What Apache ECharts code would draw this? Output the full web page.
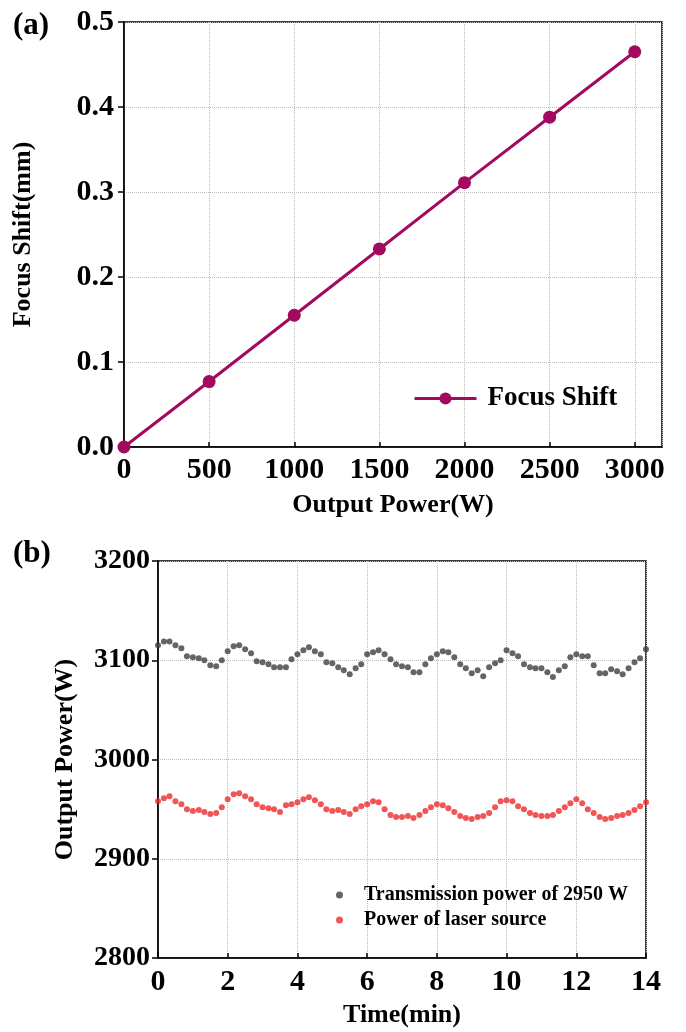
<!DOCTYPE html>
<html>
<head>
<meta charset="utf-8">
<script src="https://cdn.jsdelivr.net/npm/echarts@6/dist/echarts.min.js"></script>
<style>
  html, body { margin: 0; padding: 0; background: #fff; }
  #chart { width: 686px; height: 1032px; }
</style>
</head>
<body>
<div id="chart"></div>
<script>
// (a) focus shift vs output power
const powerW = [0, 500, 1000, 1500, 2000, 2500, 3000];
const focusShiftMm = [0, 0.077, 0.155, 0.233, 0.311, 0.388, 0.465];

// (b) power stability over time (sampled every ~10 s)
const timeMin = [
  0, 0.17, 0.33, 0.5, 0.67, 0.83, 1, 1.17, 1.33, 1.5, 1.67, 1.83,
  2, 2.17, 2.33, 2.5, 2.67, 2.83, 3, 3.17, 3.33, 3.5, 3.67, 3.83,
  4, 4.17, 4.33, 4.5, 4.67, 4.83, 5, 5.17, 5.33, 5.5, 5.67, 5.83,
  6, 6.17, 6.33, 6.5, 6.67, 6.83, 7, 7.17, 7.33, 7.5, 7.67, 7.83,
  8, 8.17, 8.33, 8.5, 8.67, 8.83, 9, 9.17, 9.33, 9.5, 9.67, 9.83,
  10, 10.17, 10.33, 10.5, 10.67, 10.83, 11, 11.17, 11.33, 11.5, 11.67, 11.83,
  12, 12.17, 12.33, 12.5, 12.67, 12.83, 13, 13.17, 13.33, 13.5, 13.67, 13.83,
  14
];
const transmissionW = [
  3115, 3119, 3119, 3115, 3112, 3104, 3103, 3102, 3100, 3095, 3094, 3100,
  3109, 3114, 3115, 3111, 3107, 3099, 3098, 3096, 3093, 3093, 3093, 3101,
  3106, 3110, 3113, 3109, 3106, 3098, 3097, 3093, 3090, 3086, 3092, 3096,
  3106, 3108, 3110, 3106, 3101, 3096, 3094, 3093, 3088, 3088, 3096, 3102,
  3106, 3109, 3108, 3103, 3096, 3092, 3087, 3090, 3084, 3093, 3097, 3100,
  3110, 3107, 3104, 3096, 3093, 3092, 3092, 3088, 3083, 3090, 3094, 3103,
  3106, 3104, 3104, 3095, 3087, 3087, 3091, 3089, 3086, 3092, 3098, 3102,
  3111
];
const laserSourceW = [
  2958, 2961, 2963, 2958, 2955, 2950, 2948, 2949, 2947, 2945, 2946, 2952,
  2960, 2965, 2966, 2963, 2960, 2955, 2952, 2951, 2950, 2947, 2954, 2955,
  2957, 2960, 2962, 2959, 2955, 2950, 2948, 2949, 2947, 2945, 2950, 2953,
  2955, 2958, 2957, 2950, 2944, 2942, 2942, 2943, 2941, 2944, 2948, 2952,
  2955, 2954, 2951, 2947, 2943, 2941, 2940, 2942, 2943, 2946, 2952, 2958,
  2959, 2958, 2953, 2950, 2946, 2944, 2943, 2943, 2944, 2948, 2952, 2956,
  2960, 2956, 2950, 2946, 2942, 2940, 2941, 2943, 2944, 2946, 2949, 2953,
  2957
];

const FONT = '"Liberation Serif", "DejaVu Serif", serif';
const gridLine = { show: true, lineStyle: { color: '#bdbdbd', type: 'dotted', width: 1 } };
const axisLine = { show: true, onZero: false, lineStyle: { color: '#000', width: 1.5 } };
const tickLabel = { fontFamily: FONT, fontWeight: 'bold', fontSize: 30, color: '#000' };
const nameText = { fontFamily: FONT, fontWeight: 'bold', fontSize: 26, color: '#000' };
const plain = v => String(v);

const zip = (xs, ys) => xs.map((x, i) => [x, ys[i]]);

const chart = echarts.init(document.getElementById('chart'), null, { renderer: 'canvas' });

const option = {
  backgroundColor: '#fff',
  animation: false,
  title: [
    { text: '(a)', left: 8, top: 5, textStyle: { fontFamily: FONT, fontWeight: 'bold', fontSize: 31, color: '#000' } },
    { text: '(b)', left: 8, top: 533, textStyle: { fontFamily: FONT, fontWeight: 'bold', fontSize: 31, color: '#000' } }
  ],
  grid: [
    { left: 124, right: 24, top: 22, height: 425, show: true, borderColor: '#000', borderWidth: 1.5, backgroundColor: 'transparent' },
    { left: 158, right: 40, top: 561, height: 397, show: true, borderColor: '#000', borderWidth: 1.5, backgroundColor: 'transparent' }
  ],
  xAxis: [
    {
      gridIndex: 0, type: 'value', min: 0, max: 3160, interval: 500,
      axisLine: axisLine,
      axisTick: { show: true, inside: true, length: 5, lineStyle: { color: '#000', width: 1.5 } },
      axisLabel: Object.assign({ margin: 8, showMaxLabel: false, formatter: plain }, tickLabel),
      splitLine: gridLine,
      name: 'Output Power(W)', nameLocation: 'middle', nameGap: 45, nameTextStyle: nameText
    },
    {
      gridIndex: 1, type: 'value', min: 0, max: 14, interval: 2,
      axisLine: axisLine,
      axisTick: { show: true, inside: true, length: 5, lineStyle: { color: '#000', width: 1.5 } },
      axisLabel: Object.assign({ margin: 9, formatter: plain }, tickLabel),
      splitLine: gridLine,
      name: 'Time(min)', nameLocation: 'middle', nameGap: 44, nameTextStyle: nameText
    }
  ],
  yAxis: [
    {
      gridIndex: 0, type: 'value', min: 0, max: 0.5, interval: 0.1,
      axisLine: axisLine,
      axisTick: { show: true, length: 6, lineStyle: { color: '#000', width: 1.5 } },
      axisLabel: Object.assign({ margin: 10, formatter: v => v.toFixed(1) }, tickLabel),
      splitLine: gridLine,
      name: 'Focus Shift(mm)', nameLocation: 'middle', nameGap: 88, nameTextStyle: nameText
    },
    {
      gridIndex: 1, type: 'value', min: 2800, max: 3200, interval: 100,
      axisLine: axisLine,
      axisTick: { show: true, length: 6, lineStyle: { color: '#000', width: 1.5 } },
      axisLabel: Object.assign({ margin: 8, formatter: plain }, Object.assign({}, tickLabel, { fontSize: 28 })),
      splitLine: gridLine,
      name: 'Output Power(W)', nameLocation: 'middle', nameGap: 80, nameTextStyle: nameText
    }
  ],
  legend: [
    {
      data: ['Focus Shift'], left: 408, top: 380,
      itemWidth: 62, itemHeight: 15, itemGap: 10,
      lineStyle: { width: 3 },
      textStyle: { fontFamily: FONT, fontWeight: 'bold', fontSize: 27, color: '#000', padding: [0, 0, 0, 6] }
    },
    {
      data: [
        { name: 'Transmission power of 2950 W', icon: 'circle' },
        { name: 'Power of laser source', icon: 'circle' }
      ],
      orient: 'vertical', left: 331, top: 880, itemGap: 5,
      itemWidth: 7, itemHeight: 7,
      textStyle: { fontFamily: FONT, fontWeight: 'bold', fontSize: 20, color: '#000', padding: [0, 0, 0, 16] }
    }
  ],
  series: [
    {
      name: 'Focus Shift', type: 'line', xAxisIndex: 0, yAxisIndex: 0,
      data: zip(powerW, focusShiftMm),
      symbol: 'circle', symbolSize: 13,
      lineStyle: { color: '#a3095e', width: 3 },
      itemStyle: { color: '#a3095e' }
    },
    {
      name: 'Transmission power of 2950 W', type: 'scatter', xAxisIndex: 1, yAxisIndex: 1,
      data: zip(timeMin, transmissionW),
      symbol: 'circle', symbolSize: 6,
      itemStyle: { color: '#3f3f3f' }
    },
    {
      name: 'Power of laser source', type: 'scatter', xAxisIndex: 1, yAxisIndex: 1,
      data: zip(timeMin, laserSourceW),
      symbol: 'circle', symbolSize: 6,
      itemStyle: { color: '#ee2a2a' }
    }
  ]
};

chart.setOption(option);
</script>
</body>
</html>
